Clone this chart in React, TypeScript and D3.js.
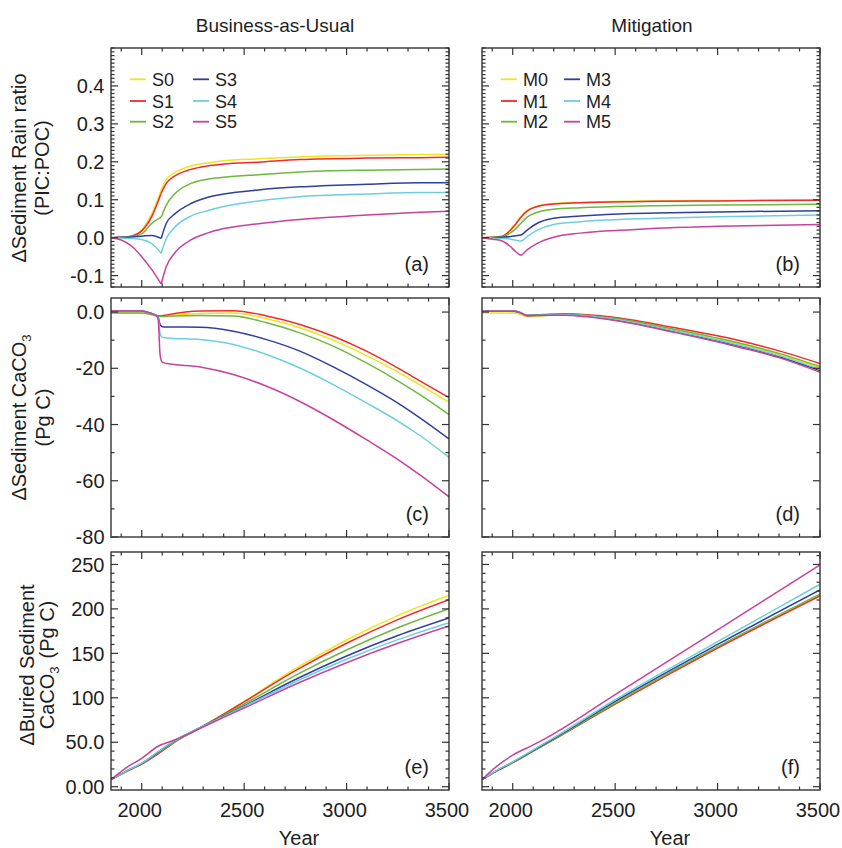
import React from 'react';
import * as d3 from 'd3';

// ---------- colours / names ----------
const COLORS = ['#f2e31d', '#ee2b2b', '#6db83c', '#2f3f9d', '#6dcfdd', '#c8419c'];
const bauNames = ['S0', 'S1', 'S2', 'S3', 'S4', 'S5'];
const mitNames = ['M0', 'M1', 'M2', 'M3', 'M4', 'M5'];

// ---------- panel (a): BAU rain ratio ----------
const yearsA = [1850, 1900, 1950, 2000, 2050, 2095, 2120, 2160, 2240, 2320, 2400, 2570, 2770, 3100, 3360, 3500];
const aS0 = [0, 0.001, 0.004, 0.02, 0.064, 0.126, 0.154, 0.171, 0.189, 0.197, 0.203, 0.208, 0.213, 0.217, 0.219, 0.219];
const aS1 = [0, 0.001, 0.004, 0.018, 0.057, 0.117, 0.143, 0.162, 0.18, 0.189, 0.194, 0.199, 0.206, 0.21, 0.211, 0.212];
const aS2 = [0, 0.001, 0.003, 0.01, 0.038, 0.054, 0.086, 0.115, 0.143, 0.154, 0.159, 0.166, 0.173, 0.178, 0.18, 0.181];
const aS3 = [0, 0.001, 0.002, 0.004, 0.006, -0.002, 0.038, 0.062, 0.09, 0.106, 0.115, 0.126, 0.134, 0.141, 0.145, 0.145];
const aS4 = [0, -0.001, -0.002, -0.005, -0.016, -0.041, -0.002, 0.027, 0.057, 0.071, 0.082, 0.097, 0.108, 0.115, 0.119, 0.119];
const aS5 = [0, -0.006, -0.022, -0.05, -0.085, -0.122, -0.076, -0.041, -0.006, 0.012, 0.024, 0.037, 0.048, 0.06, 0.067, 0.07];

// ---------- panel (b): Mitigation rain ratio ----------
const yearsB = [1850, 1900, 1945, 1990, 2015, 2040, 2070, 2120, 2200, 2330, 2575, 2700, 3000, 3500];
const bM0 = [0, 0.001, 0.003, 0.022, 0.038, 0.056, 0.072, 0.083, 0.09, 0.093, 0.096, 0.097, 0.098, 0.1];
const bM1 = [0, 0.001, 0.003, 0.02, 0.036, 0.054, 0.07, 0.082, 0.089, 0.092, 0.095, 0.096, 0.097, 0.099];
const bM2 = [0, 0.001, 0.002, 0.013, 0.024, 0.038, 0.054, 0.067, 0.075, 0.079, 0.083, 0.084, 0.086, 0.088];
const bM3 = [0, 0, 0.001, 0.003, 0.005, 0.007, 0.02, 0.038, 0.051, 0.057, 0.064, 0.065, 0.068, 0.071];
const bM4 = [0, -0.001, -0.002, -0.004, -0.007, -0.009, 0.003, 0.02, 0.035, 0.042, 0.049, 0.051, 0.055, 0.06];
const bM5 = [0, -0.004, -0.008, -0.024, -0.037, -0.046, -0.032, -0.015, 0.001, 0.012, 0.021, 0.025, 0.03, 0.035];

// ---------- panel (c): BAU sediment CaCO3 ----------
const yearsC = [1850, 1950, 2000, 2040, 2070, 2080, 2090, 2100, 2122, 2285, 2447, 2610, 2772, 2935, 3097, 3260, 3358, 3500];
const cS0 = [-0.3, -0.3, -0.3, -0.7, -1.2, -1.3, -1.4, -1.4, -1.3, -0.5, -0.3, -2.4, -5.6, -10.0, -15.5, -21.7, -25.9, -32.0];
const cS1 = [0.4, 0.4, 0.4, -0.3, -1.2, -1.3, -1.4, -1.3, -1.0, 0.4, 0.5, -1.4, -4.4, -8.6, -13.9, -20.3, -24.5, -30.4];
const cS2 = [-0.3, -0.3, -0.3, -0.8, -1.3, -1.5, -1.6, -1.6, -1.5, -1.2, -1.4, -3.8, -7.4, -12.1, -18.1, -24.9, -29.4, -36.5];
const cS3 = [0.4, 0.4, 0.4, -0.3, -1.2, -1.8, -4.5, -5.2, -5.3, -5.4, -6.8, -9.8, -13.9, -19.5, -25.8, -32.8, -37.6, -45.1];
const cS4 = [0.3, 0.3, 0.3, -0.3, -1.2, -2.0, -7.8, -9.0, -9.2, -9.8, -11.5, -15.1, -19.9, -25.8, -32.3, -39.2, -43.9, -51.7];
const cS5 = [0.4, 0.4, 0.4, -0.3, -1.2, -2.5, -15.5, -17.8, -18.3, -19.5, -22.2, -26.4, -31.8, -38.3, -45.4, -52.9, -57.9, -65.7];

// ---------- panel (d): Mitigation sediment CaCO3 ----------
const yearsD = [1850, 1950, 2010, 2040, 2070, 2150, 2250, 2500, 2800, 3100, 3300, 3500];
const dM0 = [-0.3, -0.3, -0.4, -0.9, -1.7, -1.3, -1.0, -2.4, -6.6, -11.3, -15.1, -19.9];
const dM1 = [0.3, 0.3, 0.3, -0.3, -1.2, -0.9, -0.6, -1.9, -5.7, -10.0, -13.8, -18.3];
const dM2 = [0.3, 0.3, 0.2, -0.4, -1.2, -1.0, -0.8, -2.3, -6.3, -10.9, -14.7, -19.4];
const dM3 = [0.3, 0.3, 0.3, -0.3, -1.2, -1.1, -1.0, -2.8, -7.1, -12.0, -15.9, -20.8];
const dM4 = [0.3, 0.3, 0.3, -0.3, -1.2, -1.1, -1.0, -2.6, -6.9, -11.7, -15.5, -20.4];
const dM5 = [0.3, 0.3, 0.3, -0.3, -1.3, -1.2, -1.1, -3.0, -7.4, -12.4, -16.2, -21.4];

// ---------- panel (e): BAU buried CaCO3 ----------
const yearsE = [1850, 1920, 2000, 2080, 2160, 2260, 2400, 2500, 2750, 3000, 3250, 3500];
const eS0 = [8, 16.5, 25.5, 37.5, 50.5, 63.5, 82, 96, 132.8, 165, 192.5, 215.4];
const eS1 = [8, 16.5, 25.5, 37, 50, 63, 81.5, 95.5, 130.5, 161.4, 188, 210.4];
const eS2 = [8, 16.7, 26, 38, 50.5, 63, 80.5, 93, 125.2, 153.8, 178.8, 200.3];
const eS3 = [8, 17, 26.3, 39, 51.5, 63.5, 79.5, 91, 120.6, 147, 170, 189.8];
const eS4 = [8, 17, 26.5, 39.4, 51.8, 63.8, 79, 90, 118.1, 143.3, 165.4, 184.5];
const eS5 = [8, 20.7, 32, 45.5, 52.5, 63, 78, 88.5, 115.2, 139.5, 161.3, 180.8];

// ---------- panel (f): Mitigation buried CaCO3 ----------
const yearsF = [1850, 1920, 2000, 2100, 2200, 2500, 3000, 3500];
const fM0 = [8, 17.5, 27, 40, 53, 93.2, 156.4, 215.3];
const fM1 = [8, 17.5, 27, 40, 53, 93, 156, 214.6];
const fM2 = [8, 17.6, 27.2, 40.3, 53.4, 94, 157.5, 216.8];
const fM3 = [8, 17.8, 27.6, 40.9, 54.2, 96, 160, 221.3];
const fM4 = [8, 18, 28, 41.5, 55, 97.8, 163.2, 227.7];
const fM5 = [8, 22.5, 35.5, 47, 59.5, 103.5, 176.5, 249.5];

// ---------- axis ticks ----------
const xDomain = [1850, 3500];
const xMajorTicks = [2000, 2500, 3000, 3500];
const xTickLabels = ['2000', '2500', '3000', '3500'];

const ratioDomain = [-0.13, 0.5];
const ratioTicks = [-0.1, 0, 0.1, 0.2, 0.3, 0.4];
const ratioLabels = ['-0.1', '0.0', '0.1', '0.2', '0.3', '0.4'];

const sedDomain = [-80, 5];
const sedTicks = [-80, -60, -40, -20, 0];
const sedLabels = ['-80', '-60', '-40', '-20', '0.0'];

const burDomain = [-3.7, 264];
const burTicks = [0, 50, 100, 150, 200, 250];
const burLabels = ['0.00', '50.0', '100', '150', '200', '250'];

// ---------- layout ----------
const W = 842;
const H = 848;
const colX = [111, 482];
const panelW = 338;
const rowY = [48, 298, 552];
const rowH = [239, 239, 238];
const FONT = "'Liberation Sans', Arial, Helvetica, sans-serif";
const INK = '#1e1e1e';
const FRAME = '#333333';

function stepTicks(lo: number, hi: number, step: number): number[] {
  const out: number[] = [];
  const k0 = Math.ceil(lo / step - 1e-9);
  const k1 = Math.floor(hi / step + 1e-9);
  for (let k = k0; k <= k1; k++) out.push(+(k * step).toFixed(6));
  return out;
}

type PanelProps = {
  x0: number; y0: number; w: number; h: number;
  yDomain: number[]; yMajor: number[]; yMinorStep: number; yLabels: string[] | null;
  showXLabels: boolean; years: number[]; series: number[][]; cusp?: number;
  label: string; names: string[] | null; id: string;
};

function Panel(p: PanelProps) {
  const xs = d3.scaleLinear().domain(xDomain).range([p.x0, p.x0 + p.w]);
  const ys = d3.scaleLinear().domain(p.yDomain).range([p.y0 + p.h, p.y0]);
  const line = d3.line<[number, number]>().x(d => xs(d[0])).y(d => ys(d[1])).curve(d3.curveMonotoneX);
  const xMinor = stepTicks(xDomain[0], xDomain[1], 100);
  const yMinor = stepTicks(p.yDomain[0], p.yDomain[1], p.yMinorStep);
  const isMajorY = (v: number) => p.yMajor.some(m => Math.abs(m - v) < 1e-6);
  const isMajorX = (v: number) => xMajorTicks.includes(v);
  const MAJ = 7, MIN = 3.5;
  const bottom = p.y0 + p.h, right = p.x0 + p.w;

  const paths: JSX.Element[] = [];
  p.series.forEach((vals, si) => {
    const pts: [number, number][] = p.years.map((yr, i) => [yr, vals[i]]);
    const segs = p.cusp !== undefined
      ? [pts.filter(q => q[0] <= p.cusp!), pts.filter(q => q[0] >= p.cusp!)]
      : [pts];
    segs.forEach((s, k) => {
      paths.push(
        <path key={`${si}-${k}`} d={line(s) || ''} fill="none" stroke={COLORS[si]} strokeWidth={1.5} strokeLinejoin="round" />
      );
    });
  });

  return (
    <g>
      <defs>
        <clipPath id={`clip-${p.id}`}>
          <rect x={p.x0} y={p.y0} width={p.w} height={p.h} />
        </clipPath>
      </defs>
      <g clipPath={`url(#clip-${p.id})`}>{paths}</g>
      <rect x={p.x0} y={p.y0} width={p.w} height={p.h} fill="none" stroke={FRAME} strokeWidth={1.4} />
      {xMinor.map(v => {
        const L = isMajorX(v) ? MAJ : MIN;
        const x = xs(v);
        return (
          <g key={`xt${v}`} stroke={FRAME} strokeWidth={1.2}>
            <line x1={x} x2={x} y1={bottom} y2={bottom - L} />
            <line x1={x} x2={x} y1={p.y0} y2={p.y0 + L} />
          </g>
        );
      })}
      {yMinor.map(v => {
        const L = isMajorY(v) ? MAJ : MIN;
        const y = ys(v);
        return (
          <g key={`yt${v}`} stroke={FRAME} strokeWidth={1.2}>
            <line x1={p.x0} x2={p.x0 + L} y1={y} y2={y} />
            <line x1={right} x2={right - L} y1={y} y2={y} />
          </g>
        );
      })}
      {p.yLabels && p.yMajor.map((v, i) => (
        <text key={`yl${v}`} x={p.x0 - 6.5} y={ys(v)} dy="0.36em" textAnchor="end" fontSize={20} fill={INK} fontFamily={FONT}>
          {p.yLabels![i]}
        </text>
      ))}
      {p.showXLabels && xMajorTicks.map((v, i) => (
        <text key={`xl${v}`} x={xs(v) - 2} y={817} textAnchor="middle" fontSize={20} fill={INK} fontFamily={FONT}>
          {xTickLabels[i]}
        </text>
      ))}
      {p.showXLabels && (
        <text x={p.x0 + p.w / 2 + 19} y={845} textAnchor="middle" fontSize={20} fill={INK} fontFamily={FONT}>Year</text>
      )}
      <text x={right - 20} y={bottom - 16} textAnchor="end" fontSize={20} fill={INK} fontFamily={FONT}>{p.label}</text>
      {p.names && p.names.map((n, i) => {
        const col = Math.floor(i / 3);
        const row = i % 3;
        const lx = p.x0 + (col === 0 ? 19 : 82);
        const ly = p.y0 + [31.3, 53, 73.7][row];
        return (
          <g key={`lg${n}`}>
            <line x1={lx} x2={lx + 16} y1={ly} y2={ly} stroke={COLORS[i]} strokeWidth={1.8} />
            <text x={lx + 22} y={ly + 6.5} fontSize={18} fill={INK} fontFamily={FONT}>{n}</text>
          </g>
        );
      })}
    </g>
  );
}

function YLabel({ cx, cy, line1, line2 }: { cx: number[]; cy: number; line1: React.ReactNode; line2: React.ReactNode }) {
  return (
    <g fontFamily={FONT} fontSize={20} fill={INK} textAnchor="middle">
      <text transform={`translate(${cx[0]},${cy}) rotate(-90)`}>{line1}</text>
      <text transform={`translate(${cx[1]},${cy}) rotate(-90)`}>{line2}</text>
    </g>
  );
}

export default function App() {
  return (
    <svg width={W} height={H} viewBox={`0 0 ${W} ${H}`} style={{ position: 'absolute', left: 0, top: 0, background: '#fff' }}>
      <rect x={0} y={0} width={W} height={H} fill="#fff" />
      <text x={275} y={32} textAnchor="middle" fontSize={19} fill={INK} fontFamily={FONT}>Business-as-Usual</text>
      <text x={652} y={32} textAnchor="middle" fontSize={19} fill={INK} fontFamily={FONT}>Mitigation</text>

      <YLabel cx={[26, 49]} cy={168} line1={'\u0394Sediment Rain ratio'} line2={'(PIC:POC)'} />
      <YLabel cx={[26, 50]} cy={417.5}
        line1={<>{'\u0394Sediment CaCO'}<tspan fontSize={13} dy={5}>3</tspan></>}
        line2={'(Pg C)'} />
      <YLabel cx={[34, 54]} cy={665}
        line1={'\u0394Buried Sediment'}
        line2={<>{'CaCO'}<tspan fontSize={13} dy={5}>3</tspan><tspan dy={-5} dx={8}>(Pg C)</tspan></>} />

      <Panel id="a" x0={colX[0]} y0={rowY[0]} w={panelW} h={rowH[0]} yDomain={ratioDomain} yMajor={ratioTicks}
        yMinorStep={0.01} yLabels={ratioLabels} showXLabels={false} years={yearsA}
        series={[aS0, aS1, aS2, aS3, aS4, aS5]} cusp={2095} label="(a)" names={bauNames} />
      <Panel id="b" x0={colX[1]} y0={rowY[0]} w={panelW} h={rowH[0]} yDomain={ratioDomain} yMajor={ratioTicks}
        yMinorStep={0.01} yLabels={null} showXLabels={false} years={yearsB}
        series={[bM0, bM1, bM2, bM3, bM4, bM5]} label="(b)" names={mitNames} />
      <Panel id="c" x0={colX[0]} y0={rowY[1]} w={panelW} h={rowH[1]} yDomain={sedDomain} yMajor={sedTicks}
        yMinorStep={10} yLabels={sedLabels} showXLabels={false} years={yearsC}
        series={[cS0, cS1, cS2, cS3, cS4, cS5]} label="(c)" names={null} />
      <Panel id="d" x0={colX[1]} y0={rowY[1]} w={panelW} h={rowH[1]} yDomain={sedDomain} yMajor={sedTicks}
        yMinorStep={10} yLabels={null} showXLabels={false} years={yearsD}
        series={[dM0, dM1, dM2, dM3, dM4, dM5]} label="(d)" names={null} />
      <Panel id="e" x0={colX[0]} y0={rowY[2]} w={panelW} h={rowH[2]} yDomain={burDomain} yMajor={burTicks}
        yMinorStep={10} yLabels={burLabels} showXLabels={true} years={yearsE}
        series={[eS0, eS1, eS2, eS3, eS4, eS5]} label="(e)" names={null} />
      <Panel id="f" x0={colX[1]} y0={rowY[2]} w={panelW} h={rowH[2]} yDomain={burDomain} yMajor={burTicks}
        yMinorStep={10} yLabels={null} showXLabels={true} years={yearsF}
        series={[fM0, fM1, fM2, fM3, fM4, fM5]} label="(f)" names={null} />
    </svg>
  );
}
